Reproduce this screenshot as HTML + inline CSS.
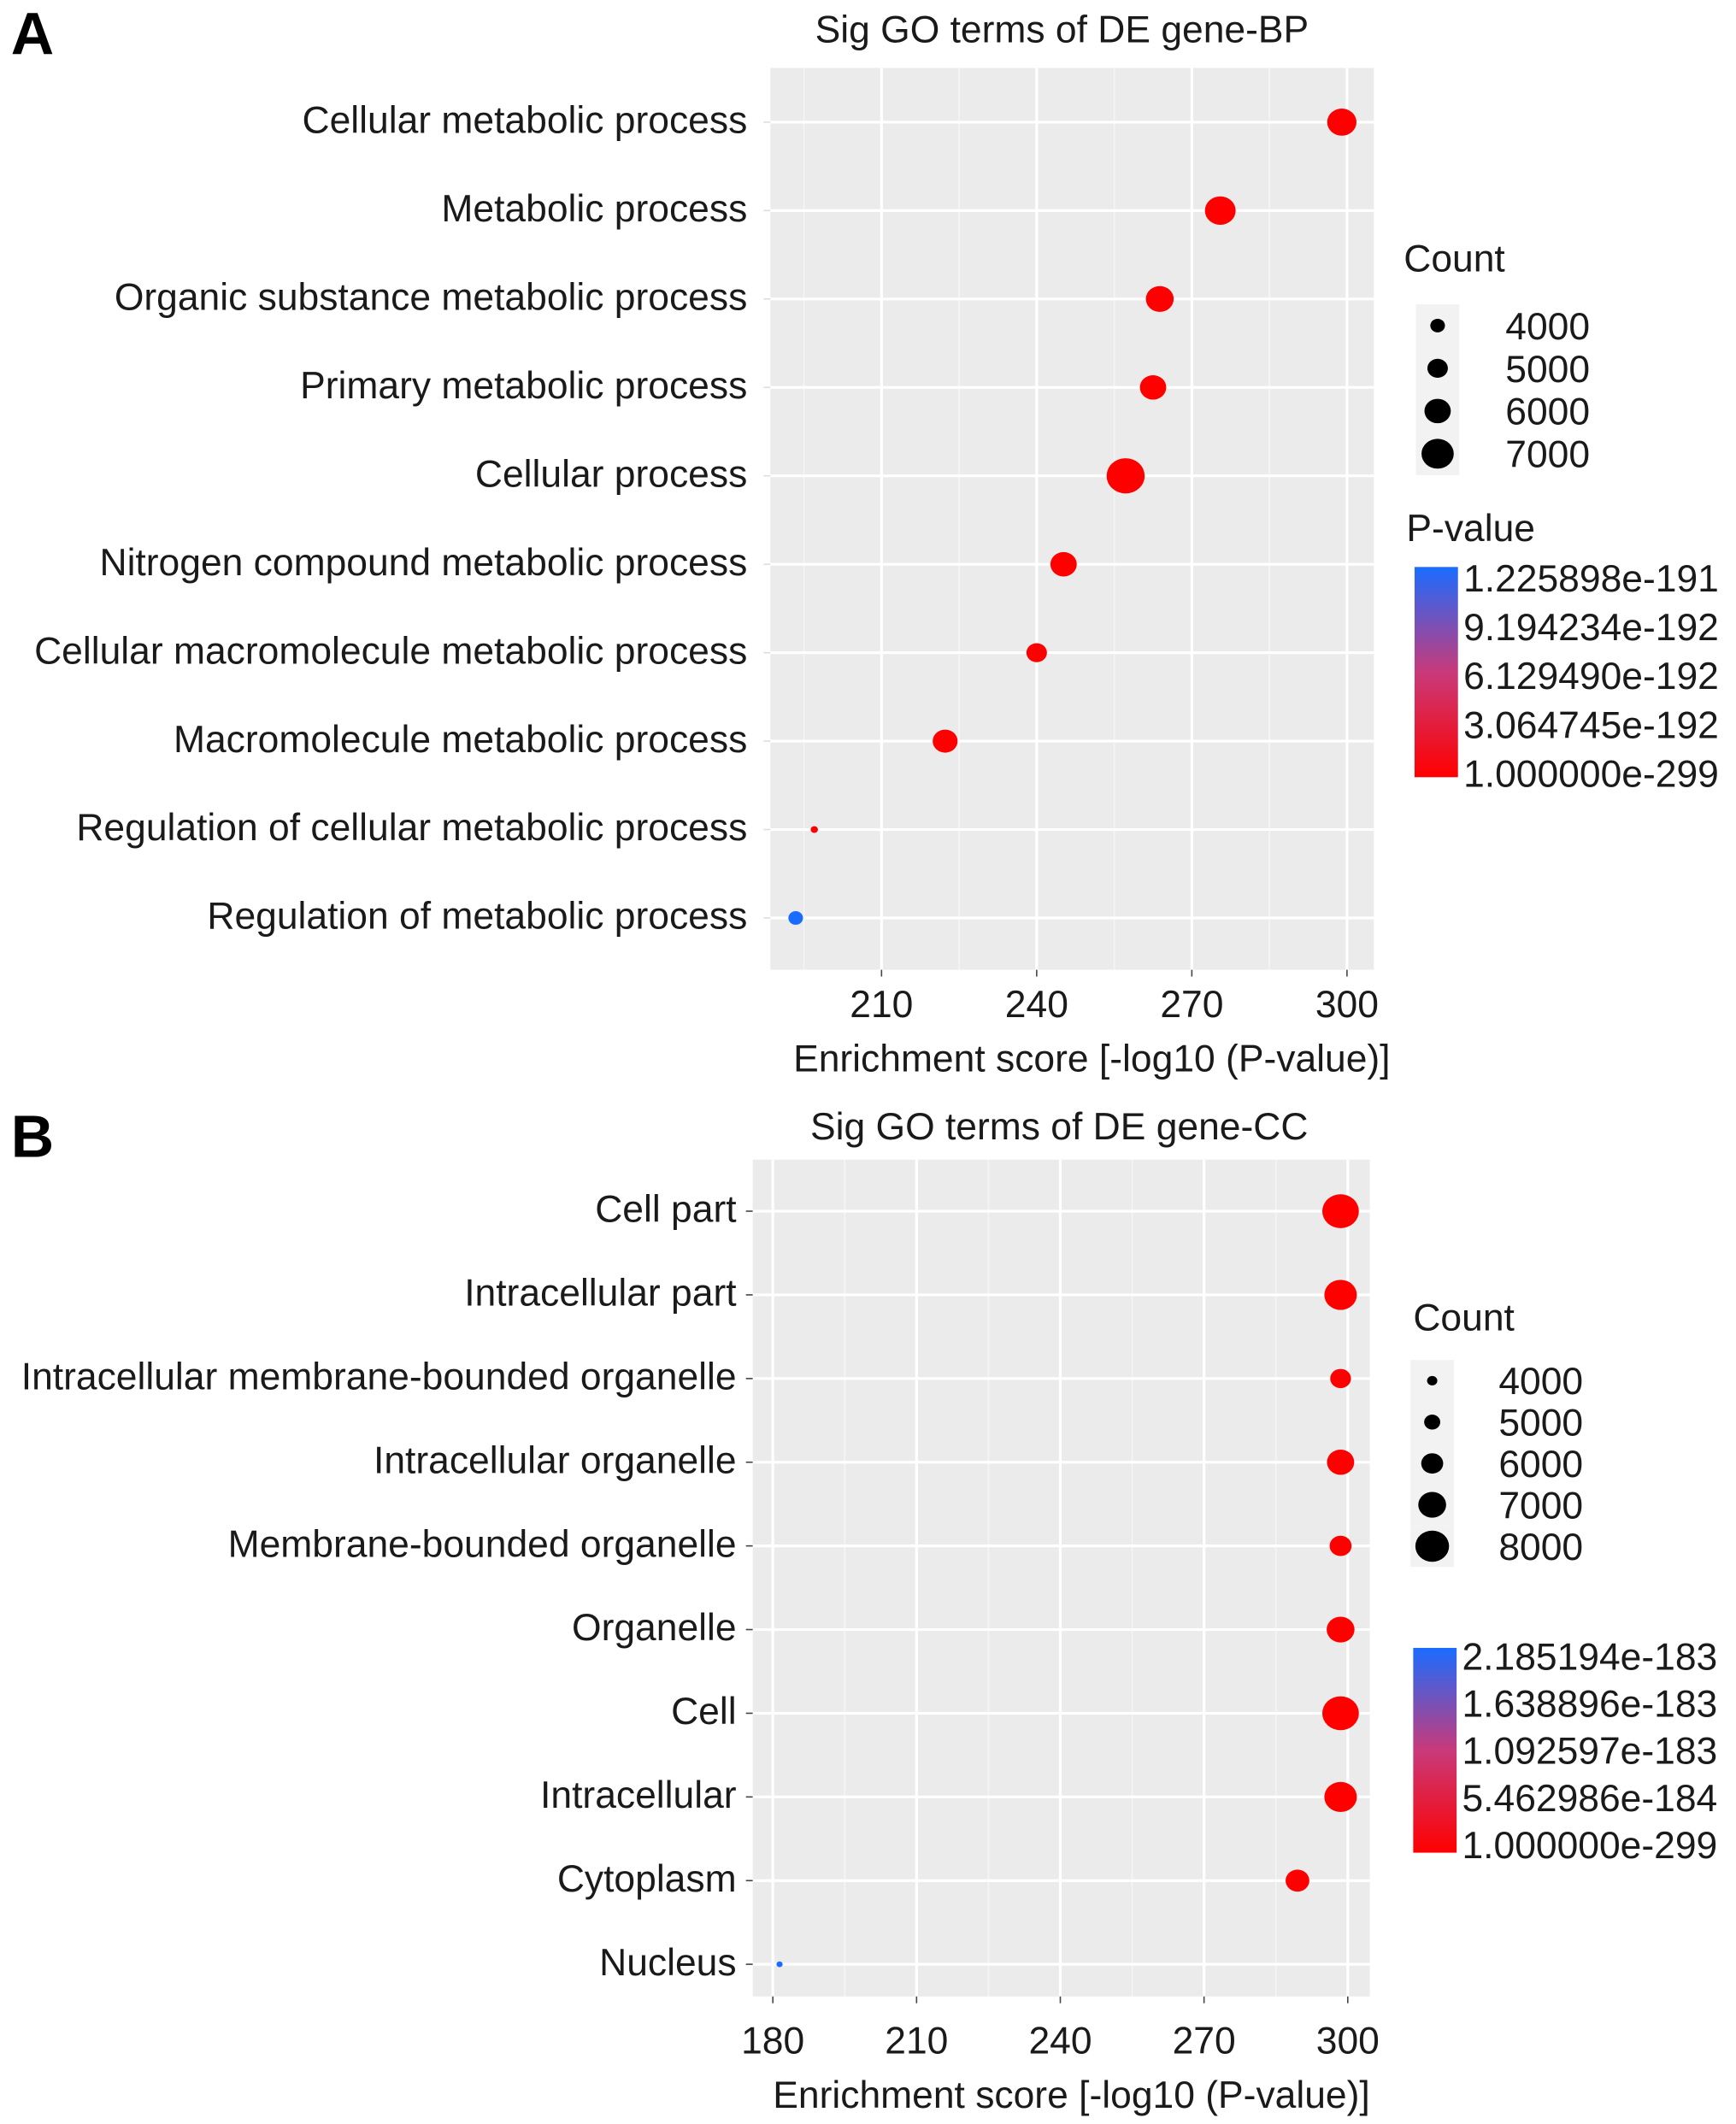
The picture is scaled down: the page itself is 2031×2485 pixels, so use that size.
<!DOCTYPE html>
<html><head><meta charset="utf-8"><style>
html,body{margin:0;padding:0;background:#fff;}
svg{display:block;font-family:"Liberation Sans",Arial,sans-serif;}
</style></head><body>
<svg id="chart" width="2031" height="2485" viewBox="0 0 1280 1566" xmlns="http://www.w3.org/2000/svg">
<defs>
<linearGradient id="gradA" x1="0" y1="1" x2="0" y2="0"><stop offset="0" stop-color="#ff0000"/><stop offset="0.5" stop-color="#c83a7a"/><stop offset="1" stop-color="#1a6cff"/></linearGradient>
<linearGradient id="gradB" x1="0" y1="1" x2="0" y2="0"><stop offset="0" stop-color="#ff0000"/><stop offset="0.5" stop-color="#c83a7a"/><stop offset="1" stop-color="#1a6cff"/></linearGradient>
</defs>
<g id="root"></g>
</svg>
<script>
// Panel A data
const catsA = ["Cellular metabolic process","Metabolic process","Organic substance metabolic process","Primary metabolic process","Cellular process","Nitrogen compound  metabolic process","Cellular macromolecule metabolic process","Macromolecule metabolic process","Regulation of cellular metabolic process","Regulation of metabolic process"];
const scoreA = [299, 275.5, 263.8, 262.5, 257.2, 245.2, 240.0, 222.3, 197.0, 193.4];
const countA = [6500, 6750, 6250, 6000, 8000, 6000, 5000, 5750, 2750, 4000];
const pvalA = [1e-299, 1e-275, 1e-263, 1e-262, 1e-257, 1e-245, 1e-240, 1e-222, 1e-197, 1.225898e-191];
const ticksA = [210, 240, 270, 300];
const countLegA = [4000, 5000, 6000, 7000];
const pLegA = ["1.225898e-191","9.194234e-192","6.129490e-192","3.064745e-192","1.000000e-299"];
// Panel B data
const catsB = ["Cell part","Intracellular part","Intracellular membrane-bounded organelle","Intracellular organelle","Membrane-bounded organelle","Organelle","Cell","Intracellular","Cytoplasm","Nucleus"];
const scoreB = [298.5, 298.5, 298.5, 298.5, 298.5, 298.5, 298.5, 298.5, 289.5, 181.4];
const countB = [8500, 7800, 5800, 6900, 6000, 7000, 8500, 7800, 6300, 3300];
const pvalB = [1e-299, 1e-299, 1e-299, 1e-299, 1e-299, 1e-299, 1e-299, 1e-299, 1e-290, 2.185194e-183];
const ticksB = [180, 210, 240, 270, 300];
const countLegB = [4000, 5000, 6000, 7000, 8000];
const pLegB = ["2.185194e-183","1.638896e-183","1.092597e-183","5.462986e-184","1.000000e-299"];

const NS = "http://www.w3.org/2000/svg";
const root = document.getElementById("root");
function mk(tag, attrs, parent, text){
  const e = document.createElementNS(NS, tag);
  for (const k in attrs) e.setAttribute(k, attrs[k]);
  if (text !== undefined) e.textContent = text;
  (parent || root).appendChild(e);
  return e;
}
function mixColor(t){
  const a=[255,0,0], m=[200,58,122], b=[26,108,255];
  let c;
  if (t<0.5){const u=t/0.5;c=a.map((v,i)=>Math.round(v+(m[i]-v)*u));}
  else {const u=(t-0.5)/0.5;c=m.map((v,i)=>Math.round(v+(b[i]-v)*u));}
  return "rgb("+c.join(",")+")";
}

function panel(o){
  const g = mk("g", {});
  
  
  const xs = v => o.px0 + (v - o.xmin) / (o.xmax - o.xmin) * (o.px1 - o.px0);
  const ys = i => o.row0 + i * o.rowStep;
  const rs = c => o.r0 + (c - 4000) * o.rk;
  const pmax = Math.max(...o.pval);
  const L = mk("text", {x:o.letterX, y:o.letterY, "font-size":44, "font-weight":"bold", fill:"#000"}, g, o.letter);
  
  
  const T = mk("text", {x:o.titleX, y:o.titleY, "font-size":28, "text-anchor":"middle", fill:"#1a1a1a"}, g, o.title);
  
  
  const bg = mk("rect", {x:o.px0, y:o.py0, width:o.px1-o.px0, height:o.py1-o.py0, fill:"#ebebeb"}, g);
  
  
  for (let k=0;k<o.ticks.length+1;k++){
    const v = o.ticks[0] - 15 + 30*k;
    if (v <= o.xmin || v >= o.xmax) continue;
    const gl = mk("line", {x1:xs(v), x2:xs(v), y1:o.py0, y2:o.py1, stroke:"#f5f5f5", "stroke-width":1}, g);
    
    
  }
  o.ticks.forEach(v=>{
    const gl = mk("line", {x1:xs(v), x2:xs(v), y1:o.py0, y2:o.py1, stroke:"#fff", "stroke-width":2}, g);
    
    
    const tk = mk("line", {x1:xs(v), x2:xs(v), y1:o.py1, y2:o.py1+5, stroke:"#444", "stroke-width":1}, g);
    
    
    const tl = mk("text", {x:xs(v), y:o.tickY, "font-size":28, "text-anchor":"middle", fill:"#1a1a1a"}, g, String(v));
    
    
  });
  o.cats.forEach((c,i)=>{
    const gl = mk("line", {x1:o.px0, x2:o.px1, y1:ys(i), y2:ys(i), stroke:"#fff", "stroke-width":2}, g);
    
    
    const tk = mk("line", {x1:o.px0-5, x2:o.px0, y1:ys(i), y2:ys(i), stroke:o.yTickColor, "stroke-width":1}, g);
    
    
    const tl = mk("text", {x:o.labelX, y:ys(i)+8, "font-size":28, "text-anchor":"end", fill:"#1a1a1a"}, g, c);
    
    
  });
  o.cats.forEach((c,i)=>{
    const dot = mk("ellipse", {cx:xs(o.score[i]), cy:ys(i), rx:rs(o.count[i])*1.08, ry:rs(o.count[i]), fill:mixColor(o.pval[i]/pmax)}, g);
    
    
  });
  const xt = mk("text", {x:o.xtX, y:o.xtY, "font-size":28, "text-anchor":"middle", fill:"#1a1a1a"}, g, "Enrichment score [-log10 (P-value)]");
  
  
  const ct = mk("text", {x:o.legX, y:o.countTitleY, "font-size":28, fill:"#1a1a1a"}, g, "Count");
  
  
  o.countLeg.forEach((c,k)=>{
    const cy = o.countY0 + k*o.countStep;
    const kb = mk("rect", {x:o.keyX, y:cy-o.countStep/2, width:32, height:o.countStep, fill:"#f2f2f2"}, g);
    
    
    const kd = mk("ellipse", {cx:o.keyX+16, cy:cy, rx:rs(c)*1.08, ry:rs(c), fill:"#000"}, g);
    
    
    const kl = mk("text", {x:o.countLabX, y:cy+10, "font-size":28, fill:"#1a1a1a"}, g, String(c));
    
    
  });
  if (o.pTitle){
    const pt = mk("text", {x:o.legX+2, y:o.pTitleY, "font-size":28, fill:"#1a1a1a"}, g, "P-value");
    
    
  }
  const cb = mk("rect", {x:o.cbX, y:o.cbY0, width:32, height:o.cbY1-o.cbY0, fill:"url(#"+o.grad+")"}, g);
  
  
  o.pLeg.forEach((s,k)=>{
    const y = o.cbLab0 + k*(o.cbLab1-o.cbLab0)/(o.pLeg.length-1);
    const pl = mk("text", {x:o.cbX+36, y:y+10, "font-size":28, fill:"#1a1a1a"}, g, s);
    
    
  });
}

panel({name:"panel-a-bp", letter:"A", letterX:8, letterY:40, title:"Sig GO terms of DE gene-BP", titleX:783, titleY:31,
  cats:catsA, score:scoreA, count:countA, pval:pvalA, ticks:ticksA,
  px0:568, px1:1013, py0:50, py1:715, xmin:188.5, xmax:305.2, row0:90, rowStep:65.2, labelX:551, yTickColor:"#ddd",
  r0:5, rk:0.002, tickY:750, xtX:805, xtY:790,
  legX:1035, countTitleY:200, keyX:1044, countY0:240, countStep:31.5, countLabX:1110,
  pTitle:true, pTitleY:399, cbX:1043, cbY0:418, cbY1:573, grad:"gradA", cbLab0:426, cbLab1:570, pLeg:pLegA, countLeg:countLegA});

panel({name:"panel-b-cc", letter:"B", letterX:8, letterY:853, title:"Sig GO terms of DE gene-CC", titleX:781, titleY:840,
  cats:catsB, score:scoreB, count:countB, pval:pvalB, ticks:ticksB,
  px0:555, px1:1010, py0:855, py1:1472, xmin:175.8, xmax:304.6, row0:893, rowStep:61.7, labelX:543, yTickColor:"#444",
  r0:3.5, rk:0.002, tickY:1514, xtX:790, xtY:1554,
  legX:1042, countTitleY:981, keyX:1040, countY0:1018, countStep:30.5, countLabX:1105,
  pTitle:false, pTitleY:0, cbX:1042, cbY0:1215, cbY1:1366, grad:"gradB", cbLab0:1221, cbLab1:1360, pLeg:pLegB, countLeg:countLegB});
</script>
</body></html>
